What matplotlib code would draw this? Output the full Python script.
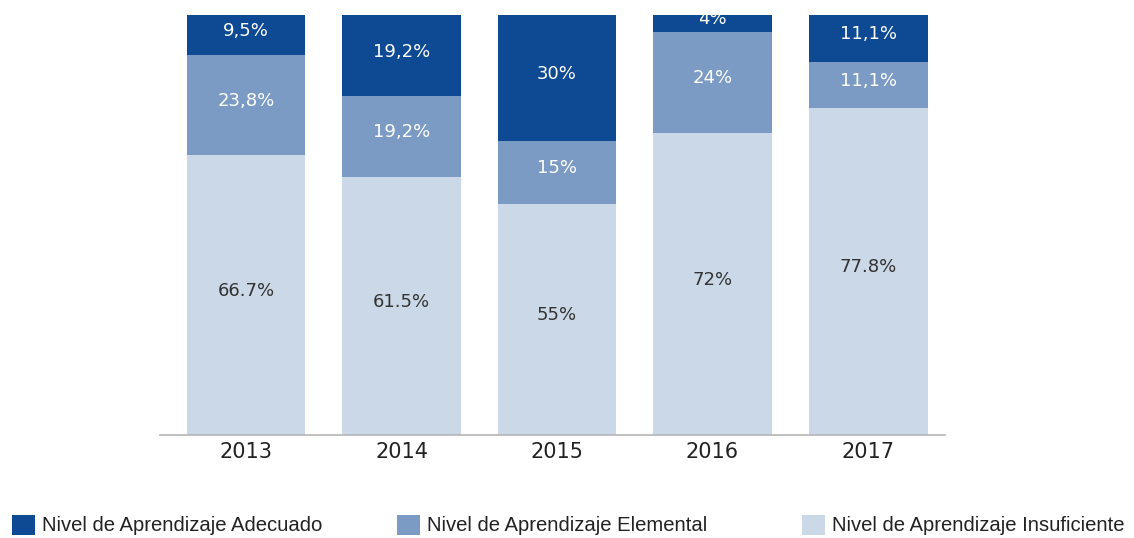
import matplotlib
matplotlib.use("Agg")
import matplotlib.pyplot as plt
from matplotlib import font_manager as fm

years = ["2013", "2014", "2015", "2016", "2017"]
insuficiente = [66.7, 61.5, 55.0, 72.0, 77.8]
elemental = [23.8, 19.2, 15.0, 24.0, 11.1]
adecuado = [9.5, 19.2, 30.0, 4.0, 11.1]
series_names = ["Nivel de Aprendizaje Adecuado",
                "Nivel de Aprendizaje Elemental",
                "Nivel de Aprendizaje Insuficiente"]

c_dark = "#0d4a93"
c_mid = "#7b9bc5"
c_light = "#cbd8e7"

W, H = 1134, 538
fig = plt.figure(figsize=(W / 100, H / 100), dpi=100)
ax = fig.add_axes([160 / W, 1 - 435 / H, (945 - 160) / W, (435 - 15) / H])

x = list(range(len(years)))
bw = 0.765
b_light = ax.bar(x, insuficiente, bw, color=c_light, zorder=2)
b_mid = ax.bar(x, elemental, bw, bottom=insuficiente, color=c_mid, zorder=2)
bottom2 = [a + b for a, b in zip(insuficiente, elemental)]
b_dark = ax.bar(x, adecuado, bw, bottom=bottom2, color=c_dark, zorder=2)

def fmt(v):
    s = f"{v:.1f}".rstrip("0").rstrip(".")
    return s.replace(".", ",") + "%"

for bars, vals, col in [(b_light, insuficiente, "#333333"),
                        (b_mid, elemental, "white"),
                        (b_dark, adecuado, "white")]:
    for rect, v in zip(bars, vals):
        cx = rect.get_x() + rect.get_width() / 2
        cy = rect.get_y() + rect.get_height() / 2
        lab = fmt(v)
        if bars is b_light:
            lab = lab.replace(",", ".")
        ax.annotate(lab, (cx, cy), xytext=(0, 3), textcoords="offset points",
                    ha="center", va="center", color=col, fontsize=13,
                    family="DejaVu Sans", zorder=3)

ax.set_xlim(-0.553, 4.495)
ax.set_ylim(0, 100)
ax.set_xticks(x)
ax.set_xticklabels(years, fontsize=15, color="#222222")
ax.tick_params(axis="x", length=0, pad=5)
ax.set_yticks([])
for s in ["top", "left", "right"]:
    ax.spines[s].set_visible(False)
ax.spines["bottom"].set_color("#b5b5b5")
ax.spines["bottom"].set_linewidth(1.2)

# fit legend font size to reference text widths
leg_family = "Liberation Sans"
targets = [299, 305, 292]
renderer = fig.canvas.get_renderer()
sizes = []
for name, tw in zip(series_names, targets):
    t = fig.text(0, 0, name, family=leg_family, fontsize=20)
    w = t.get_window_extent(renderer).width
    t.remove()
    sizes.append(20 * tw / w)
leg_size = min(sizes)

for handle, name, xpos in [(b_dark, series_names[0], 12),
                           (b_mid, series_names[1], 397),
                           (b_light, series_names[2], 802)]:
    leg = fig.legend([handle], [name], loc="center left",
                     bbox_to_anchor=(xpos / W, 1 - 525 / H),
                     frameon=False,
                     prop={"family": leg_family, "size": leg_size},
                     handlelength=23 / (leg_size * 100 / 72),
                     handleheight=23 / (leg_size * 100 / 72),
                     handletextpad=7 / (leg_size * 100 / 72),
                     borderpad=0, borderaxespad=0)
    for t in leg.get_texts():
        t.set_color("#222222")

fig.savefig("out.png", dpi=100)
